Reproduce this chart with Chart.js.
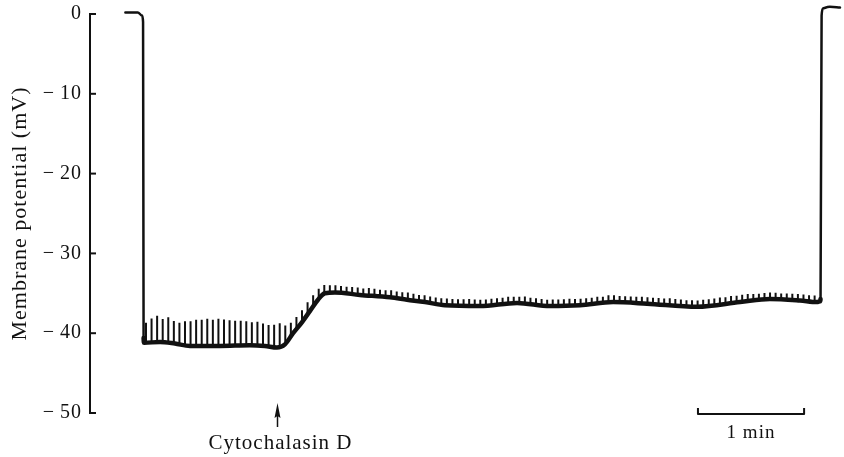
<!DOCTYPE html>
<html>
<head>
<meta charset="utf-8">
<script src="https://cdn.jsdelivr.net/npm/chart.js@4.4.0/dist/chart.umd.min.js"></script>
<style>
  html, body { margin: 0; padding: 0; background: #fff; }
</style>
</head>
<body>
<canvas id="trace" width="844" height="457"></canvas>
<script>
// membrane potential trace, time in s, potential in mV
const traceT = [0, 7, 9.4, 10.0, 10.3, 10.6, 19.6, 28, 36.5, 53.5, 70.4, 78.9, 85.7, 90.2, 94.8, 99.9, 104.4, 108.9, 112.8, 118.5, 132.6, 149.6, 159.2, 169.4, 180.7, 200.4, 221.4, 240, 257, 275.7, 294.9, 323.2, 347.5, 364.4, 381.4, 391, 392.8, 393.0, 393.6, 394.4, 398.2, 404]
const traceV = [0.2, 0.2, -0.2, -1.0, -40.6, -41.2, -41.1, -41.3, -41.6, -41.6, -41.5, -41.6, -41.8, -41.4, -40.0, -38.6, -37.2, -35.8, -35.0, -34.9, -35.2, -35.5, -35.8, -36.1, -36.5, -36.6, -36.2, -36.6, -36.5, -36.1, -36.3, -36.7, -36.1, -35.7, -35.9, -36.1, -36.0, -35.7, -0.2, 0.7, 0.9, 0.8]

// test pulses: first pulse time, pulse interval (s), deflection of each pulse (mV)
const pulseStart = 11.65
const pulseInterval = 3.15
const pulseAmp = [
    2.5, 3.0, 3.3, 2.9, 3.2, 2.8, 2.7, 3.0, 3.1, 3.3, 3.3, 3.4, 3.3, 3.4, 3.3, 3.2, 3.1, 3.1, 3.0, 2.9, 3.0, 2.8, 2.7, 2.8, 2.9, 2.3,
    1.7, 1.5, 1.5, 1.5, 1.4, 1.3, 1.1,
    0.95, 0.9, 0.9, 0.85, 0.9, 0.9, 0.85, 0.95, 0.9, 0.85,
    0.85, 0.9, 0.85, 0.85, 0.9, 0.85, 0.8, 0.85, 0.8, 0.8,
    0.8, 0.85, 0.8, 0.8, 0.8, 0.85, 0.8, 0.8, 0.75, 0.8,
    0.8, 0.8, 0.85, 0.8, 0.8, 0.9, 0.8, 0.8, 0.8, 0.75,
    0.8, 0.8, 0.8, 0.85, 0.8, 0.8, 0.8, 0.8, 0.85, 0.8,
    0.9, 0.85, 0.8, 0.8, 0.8, 0.8, 0.85, 0.8, 0.8, 0.8,
    0.8, 0.85, 0.8, 0.8, 0.75, 0.8, 0.8, 0.8, 0.8, 0.8,
    0.85, 0.8, 0.9, 0.85, 0.9, 0.9, 0.85, 0.8, 0.8, 0.8,
    0.8, 0.75, 0.8, 0.8, 0.8, 0.8, 0.75, 0.8
]

const yTicks = [0, -10, -20, -30, -40, -50]
const drugTime = 86
const drugLabel = 'Cytochalasin D'
const barStart = 323.7
const barLength = 60
const barLabel = '1 min'

const ink = '#111'

function baseAt(t) {
    for (let i = 1; i < traceT.length; i++) {
        if (t <= traceT[i]) {
            const f = (t - traceT[i - 1]) / (traceT[i] - traceT[i - 1])
            return traceV[i - 1] + f * (traceV[i] - traceV[i - 1])
        }
    }
    return traceV[traceV.length - 1]
}

const pulsePoints = []
pulseAmp.forEach((amp, i) => {
    const t = pulseStart + i * pulseInterval
    const v = baseAt(t)
    pulsePoints.push({ x: t, y: v }, { x: t, y: v + amp }, { x: t, y: null })
})

const annotations = {
    id: 'annotations',
    beforeDraw(chart) {
        chart.ctx.letterSpacing = '1px'
    },
    afterDraw(chart) {
        const { ctx, chartArea, scales: { x, y } } = chart
        const b = chartArea.bottom
        ctx.save()
        ctx.fillStyle = ink
        ctx.strokeStyle = ink
        ctx.textAlign = 'center'
        ctx.textBaseline = 'middle'

        // inward tick marks on the y axis
        ctx.lineWidth = 2
        yTicks.forEach(v => {
            const py = y.getPixelForValue(v)
            ctx.beginPath()
            ctx.moveTo(chartArea.left, py)
            ctx.lineTo(chartArea.left + 6, py)
            ctx.stroke()
        })

        // arrow for drug application
        const ax = x.getPixelForValue(drugTime)
        ctx.lineWidth = 1.5
        ctx.beginPath()
        ctx.moveTo(ax, b + 2)
        ctx.lineTo(ax, b + 14)
        ctx.stroke()
        ctx.beginPath()
        ctx.moveTo(ax, b - 10)
        ctx.lineTo(ax + 3, b + 5)
        ctx.lineTo(ax, b + 3)
        ctx.lineTo(ax - 3, b + 5)
        ctx.closePath()
        ctx.fill()
        ctx.font = '21px "Liberation Serif", serif'
        ctx.fillText(drugLabel, ax + 3, b + 30)

        // time scale bar
        const x1 = x.getPixelForValue(barStart)
        const x2 = x.getPixelForValue(barStart + barLength)
        ctx.lineWidth = 2
        ctx.lineJoin = 'round'
        ctx.beginPath()
        ctx.moveTo(x1, b - 5)
        ctx.lineTo(x1, b + 1)
        ctx.lineTo(x2, b + 1)
        ctx.lineTo(x2, b - 5)
        ctx.stroke()
        ctx.font = '19px "Liberation Serif", serif'
        ctx.fillText(barLabel, (x1 + x2) / 2, b + 20)
        ctx.restore()
    }
}

Chart.defaults.font.family = '"Liberation Serif", serif'
Chart.defaults.color = ink

new Chart(document.getElementById('trace'), {
    type: 'line',
    data: {
        datasets: [
            {
                data: traceT.map((t, i) => ({ x: t, y: traceV[i] })),
                borderColor: ink,
                borderWidth: 4.5,
                borderCapStyle: 'round',
                borderJoinStyle: 'round',
                cubicInterpolationMode: 'monotone',
                pointRadius: 0,
                clip: false,
                segment: {
                    borderWidth: c => Math.max(c.p0.parsed.y, c.p1.parsed.y) > -20 ? 2.5 : 4.5
                }
            },
            {
                data: pulsePoints,
                borderColor: ink,
                borderWidth: 2,
                tension: 0,
                pointRadius: 0,
                spanGaps: false
            }
        ]
    },
    options: {
        responsive: false,
        animation: false,
        layout: { padding: { left: 0, right: 4, top: 14, bottom: 44 } },
        plugins: { legend: { display: false }, tooltip: { enabled: false } },
        scales: {
            x: { type: 'linear', min: -20, max: 404, display: false },
            y: {
                min: -50,
                max: 0,
                afterBuildTicks: s => { s.ticks = yTicks.map(v => ({ value: v })) },
                afterFit: s => { s.width = 90 },
                ticks: {
                    color: ink,
                    font: { size: 20 },
                    padding: 0,
                    callback: v => v === 0 ? '0' : '\u2212\u2009' + Math.abs(v)
                },
                grid: { drawOnChartArea: false, drawTicks: true, tickLength: 8, tickColor: 'rgba(0,0,0,0)', color: 'rgba(0,0,0,0)' },
                border: { display: true, color: ink, width: 2 },
                title: {
                    display: true,
                    text: 'Membrane potential (mV)',
                    color: ink,
                    font: { size: 22 },
                    padding: { top: 7, bottom: 0 }
                }
            }
        }
    },
    plugins: [annotations]
})
</script>
</body>
</html>
